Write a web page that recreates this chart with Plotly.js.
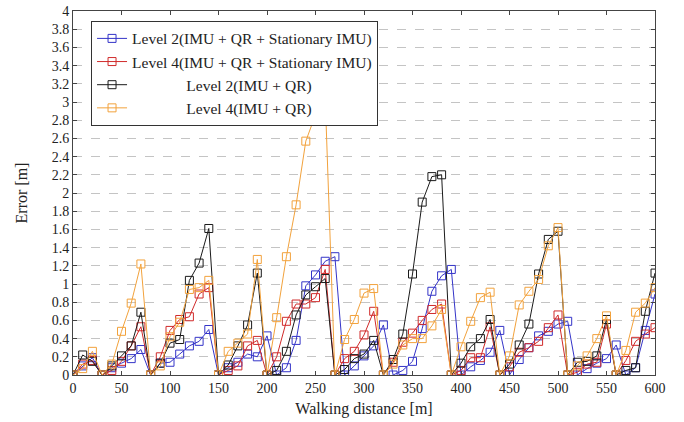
<!DOCTYPE html>
<html>
<head>
<meta charset="utf-8">
<script src="https://cdn.plot.ly/plotly-3.0.1.min.js"></script>
<style>html,body{margin:0;padding:0;background:#fff;}#chart{width:684px;height:422px;}</style>
</head>
<body>
<div id="chart"></div>
<script>
// Walking distance [m]
const distance = [0,10,20,30,40,50,60,70,80,90,100,110,120,130,140,150,160,170,180,190,200,210,220,230,240,250,260,270,280,290,300,310,320,330,340,350,360,370,380,390,400,410,420,430,440,450,460,470,480,490,500,510,520,530,540,550,560,570,580,590,600];

const level2Stationary = [0,0.10,0.19,0,0.08,0.13,0.18,0.28,0,0.13,0.14,0.23,0.32,0.37,0.50,0,0.08,0.14,0.23,0.20,0.43,0,0.08,0.38,0.98,1.10,1.25,1.30,0,0.10,0.21,0.32,0.55,0,0.05,0.15,0.51,0.92,1.09,1.16,0,0.09,0.16,0.25,0.49,0,0.17,0.30,0.43,0.48,0.56,0.59,0,0.07,0.13,0.18,0.33,0,0.08,0.49,0.89];

const level4Stationary = [0,0.12,0.16,0,0.05,0.15,0.32,0.53,0,0.20,0.49,0.61,0.64,0.89,0.96,0,0.05,0.10,0.32,0.38,0,0.20,0.59,0.78,0.78,0.85,1.16,0,0.18,0.26,0.44,0.70,0,0.14,0.36,0.46,0.60,0.72,0.78,0,0.05,0.19,0.19,0.53,0,0.09,0.25,0.30,0.37,0.52,0.66,0,0.03,0.12,0.14,0.56,0,0.16,0.37,0.45,0.52];

const level2 = [0,0.22,0.15,0,0.10,0.21,0.32,0.69,0,0.13,0.35,0.39,1.04,1.23,1.61,0,0.11,0.32,0.55,1.12,0,0.05,0.26,0.66,0.88,0.97,1.06,0,0.06,0.18,0.23,0.38,0,0.17,0.45,1.11,1.90,2.18,2.20,0,0.13,0.31,0.40,0.61,0,0.12,0.33,0.56,1.11,1.49,1.58,0,0.14,0.15,0.21,0.61,0,0.05,0.08,0.70,1.12];

const level4 = [0,0.07,0.26,0,0.12,0.48,0.79,1.22,0,0.10,0.42,0.58,0.94,0.96,1.04,0,0.26,0.35,0.45,1.27,0,0.63,1.30,1.87,2.57,2.86,3.05,0,0.39,0.61,0.90,0.95,0,0.12,0.33,0.40,0.40,0.54,0.72,0,0.31,0.59,0.85,0.91,0,0.21,0.77,0.92,1.05,1.42,1.62,0,0.10,0.21,0.40,0.65,0,0.27,0.69,0.79,0.96];

const pad = '\u00A0'.repeat(14);
const seriesNames = [
  'Level 2(IMU + QR + Stationary IMU)',
  'Level 4(IMU + QR + Stationary IMU)',
  pad + 'Level 2(IMU + QR)',
  pad + 'Level 4(IMU + QR)'
];
const seriesValues = [level2Stationary, level4Stationary, level2, level4];
const seriesColors = ['#3434c8', '#d02a2a', '#1a1a1a', '#f2a23c'];

const xTicks = [0,50,100,150,200,250,300,350,400,450,500,550,600];
const yTicks = [0,0.2,0.4,0.6,0.8,1,1.2,1.4,1.6,1.8,2,2.2,2.4,2.6,2.8,3,3.2,3.4,3.6,3.8,4];

const font = 'Liberation Serif';

const traces = seriesValues.map((vals, i) => ({
  x: distance,
  y: vals,
  type: 'scatter',
  mode: 'lines+markers',
  name: seriesNames[i],
  line: {color: seriesColors[i], width: 1},
  marker: {symbol: 'square-open', size: 8, color: seriesColors[i], line: {width: 1, color: seriesColors[i]}}
}));

const layout = {
  width: 684, height: 422,
  margin: {l: 73, r: 29, t: 11, b: 47},
  paper_bgcolor: '#fff', plot_bgcolor: '#fff',
  font: {family: font, size: 13, color: '#222'},
  showlegend: true,
  legend: {
    x: 0.031, y: 0.973, xanchor: 'left', yanchor: 'top',
    bgcolor: '#fff', bordercolor: '#333', borderwidth: 1,
    font: {family: font, size: 15.5, color: '#222'},
    tracegroupgap: 0, itemwidth: 30
  },
  xaxis: {
    range: [0, 600], tickvals: xTicks, ticktext: xTicks.map(String),
    showgrid: false, zeroline: false,
    showline: true, linecolor: '#444', linewidth: 1, mirror: 'ticks',
    ticks: 'inside', ticklen: 4, tickcolor: '#444',
    tickfont: {family: font, size: 14, color: '#222'},
    title: {text: 'Walking distance [m]', font: {family: font, size: 16, color: '#222'}, standoff: 8}
  },
  yaxis: {
    range: [0, 4], tickvals: yTicks, ticktext: yTicks.map(String),
    showgrid: true, gridcolor: '#c4c4c4', griddash: 'dash', gridwidth: 1,
    zeroline: false,
    showline: true, linecolor: '#444', linewidth: 1, mirror: 'ticks',
    ticks: 'inside', ticklen: 4, tickcolor: '#444',
    tickfont: {family: font, size: 14, color: '#222'},
    title: {text: 'Error [m]', font: {family: font, size: 16, color: '#222'}, standoff: 20}
  }
};

Plotly.newPlot('chart', traces, layout, {displayModeBar: false, staticPlot: true});
</script>
</body>
</html>
